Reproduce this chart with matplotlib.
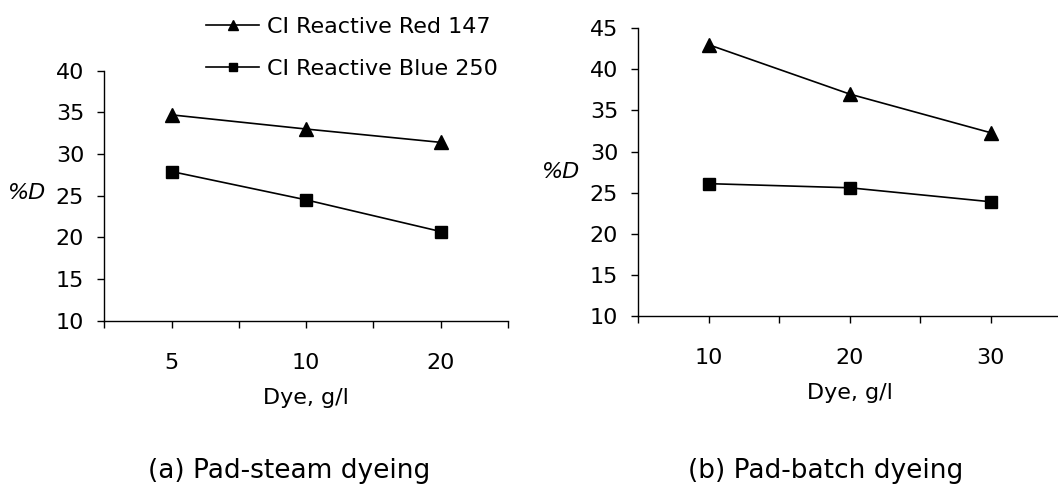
import matplotlib
matplotlib.use("Agg")
import matplotlib.pyplot as plt
from matplotlib.ticker import FixedLocator

# values
steam_dye = ["5", "10", "20"]
steam_red = [34.7, 33.0, 31.4]
steam_blue = [27.9, 24.5, 20.7]

batch_dye = ["10", "20", "30"]
batch_red = [43.0, 37.0, 32.3]
batch_blue = [26.1, 25.6, 23.9]

series_names = ["CI Reactive Red 147", "CI Reactive Blue 250"]
captions = ["(a) Pad-steam dyeing", "(b) Pad-batch dyeing"]

plt.rcParams["font.family"] = ["DejaVu Sans"]
plt.rcParams["font.size"] = 16

W, H = 1058, 490
fig = plt.figure(figsize=(W / 100, H / 100), dpi=100)


def px_axes(x0, x1, ytop, ybot):
    return fig.add_axes([x0 / W, 1 - ybot / H, (x1 - x0) / W, (ybot - ytop) / H])


def style(ax, cats, ylim, ystep):
    n = len(cats)
    xs = list(range(n))
    ax.set_xlim(-0.5, n - 0.5)
    ax.set_ylim(*ylim)
    ax.set_yticks(list(range(ylim[0], ylim[1] + 1, ystep)))
    ax.set_xticks(xs)
    ax.set_xticklabels(cats)
    ax.xaxis.set_minor_locator(FixedLocator([i - 0.5 for i in range(n + 1)]))
    for sp in ("top", "right"):
        ax.spines[sp].set_visible(False)
    for sp in ("left", "bottom"):
        ax.spines[sp].set_linewidth(1.0)
    ax.tick_params(axis="y", direction="out", length=5, width=1, pad=9.5, labelsize=16)
    ax.tick_params(axis="x", which="both", direction="out", length=5, width=1)
    ax.tick_params(axis="x", which="major", pad=18, labelsize=16)
    ax.set_xlabel("Dye, g/l", fontsize=16, labelpad=11)
    ax.set_ylabel("%D", fontsize=16, style="italic", rotation=0, va="center", ha="center")
    return xs


ax1 = px_axes(104.3, 508, 70.7, 320.7)
xs = style(ax1, steam_dye, (10, 40), 5)
h1, = ax1.plot(xs, steam_red, color="black", lw=1.2, marker="^", ms=10)
h2, = ax1.plot(xs, steam_blue, color="black", lw=1.2, marker="s", ms=8)
ax1.yaxis.set_label_coords(-0.19, 0.51)

ax2 = px_axes(638.3, 1061, 28.3, 316)
xs = style(ax2, batch_dye, (10, 45), 5)
ax2.plot(xs, batch_red, color="black", lw=1.2, marker="^", ms=10)
ax2.plot(xs, batch_blue, color="black", lw=1.2, marker="s", ms=8)
ax2.yaxis.set_label_coords(-0.183, 0.50)

fig.legend([h1, h2], series_names, loc="center left",
           bbox_to_anchor=(206 / W, 1 - 48 / H), frameon=False,
           handlelength=2.4, handletextpad=0.35, labelspacing=1.0,
           borderpad=0, borderaxespad=0, markerscale=0.7, fontsize=16)

fig.text(289 / W, 1 - 478 / H, captions[0], ha="center", va="baseline", fontsize=19)
fig.text(826 / W, 1 - 478 / H, captions[1], ha="center", va="baseline", fontsize=19)

fig.savefig("out.png", dpi=100)
